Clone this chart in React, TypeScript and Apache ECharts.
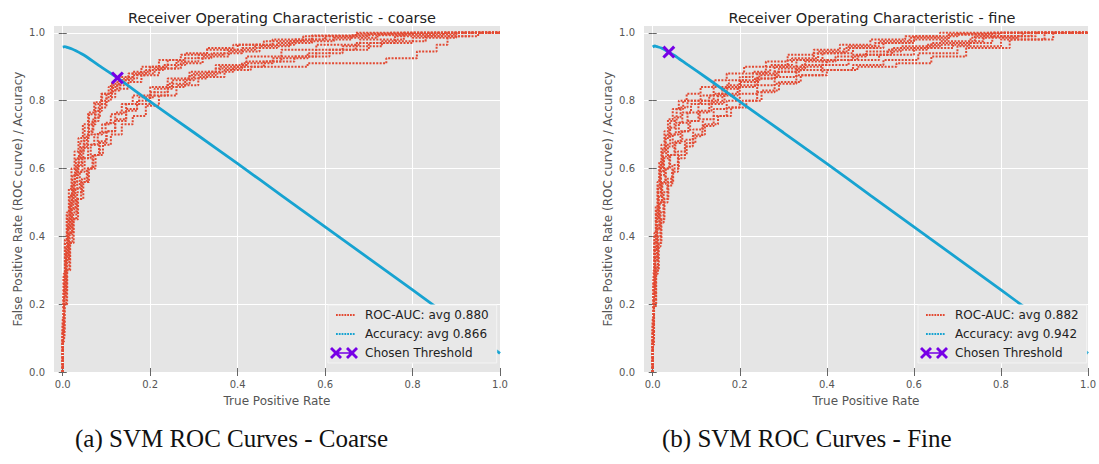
import React, { useEffect, useRef } from "react";
import * as echarts from "echarts";

const xTicks = [0, 0.2, 0.4, 0.6, 0.8, 1.0];
const yTicks = [0, 0.2, 0.4, 0.6, 0.8, 1.0];

const titles = ["Receiver Operating Characteristic - coarse", "Receiver Operating Characteristic - fine"];
const captions = ["(a) SVM ROC Curves - Coarse", "(b) SVM ROC Curves - Fine"];
const rocNames = ["ROC-AUC: avg 0.880", "ROC-AUC: avg 0.882"];
const accNames = ["Accuracy: avg 0.866", "Accuracy: avg 0.942"];
const thresholdName = "Chosen Threshold";

// Chosen threshold points [x, y]
const thresholdCoarse = [[0.125, 0.867]];
const thresholdFine = [[0.037, 0.943]];

// Accuracy curves [x, y]
const accCoarse = [
  [0, 0.958], [0.005, 0.959], [0.01, 0.957], [0.02, 0.953], [0.03, 0.947], [0.05, 0.933],
  [0.08, 0.906], [0.125, 0.867], [0.2, 0.797], [0.3, 0.706], [0.4, 0.614], [0.5, 0.521],
  [0.6, 0.428], [0.7, 0.335], [0.8, 0.242], [0.9, 0.148], [1.0, 0.055],
];
const accFine = [
  [0, 0.958], [0.005, 0.961], [0.01, 0.959], [0.02, 0.955], [0.037, 0.943], [0.05, 0.933],
  [0.08, 0.906], [0.125, 0.866], [0.2, 0.797], [0.3, 0.706], [0.4, 0.614], [0.5, 0.521],
  [0.6, 0.428], [0.7, 0.335], [0.8, 0.242], [0.9, 0.148], [1.0, 0.055],
];

// ROC curves per fold, coarse search
const rocCoarse1 = [[0,0],[0.002,0.15],[0.005,0.28],[0.01,0.38],[0.016,0.46],[0.022,0.52],[0.03,0.58],[0.04,0.63],[0.05,0.68],[0.06,0.72],[0.075,0.76],[0.09,0.79],[0.11,0.82],[0.13,0.85],[0.16,0.87],[0.2,0.885],[0.24,0.9],[0.28,0.92],[0.33,0.94],[0.39,0.955],[0.46,0.965],[0.55,0.975],[0.67,0.99],[0.75,0.997],[1,1]];
const rocCoarse2 = [[0,0],[0.003,0.13],[0.007,0.25],[0.012,0.35],[0.018,0.43],[0.025,0.5],[0.033,0.56],[0.043,0.61],[0.055,0.66],[0.068,0.7],[0.082,0.74],[0.1,0.78],[0.12,0.81],[0.15,0.835],[0.18,0.855],[0.22,0.875],[0.27,0.895],[0.32,0.91],[0.38,0.93],[0.45,0.945],[0.52,0.96],[0.62,0.975],[0.72,0.985],[0.85,0.995],[1,1]];
const rocCoarse3 = [[0,0],[0.002,0.1],[0.006,0.22],[0.011,0.33],[0.017,0.41],[0.024,0.48],[0.033,0.54],[0.045,0.59],[0.058,0.63],[0.072,0.67],[0.09,0.7],[0.11,0.73],[0.135,0.76],[0.16,0.79],[0.2,0.815],[0.24,0.84],[0.29,0.865],[0.35,0.885],[0.42,0.905],[0.5,0.93],[0.58,0.95],[0.68,0.965],[0.78,0.98],[0.9,0.995],[1,1]];
const rocCoarse4 = [[0,0],[0.004,0.1],[0.01,0.2],[0.017,0.3],[0.025,0.38],[0.035,0.45],[0.047,0.51],[0.06,0.56],[0.075,0.6],[0.092,0.64],[0.11,0.67],[0.135,0.7],[0.16,0.73],[0.19,0.755],[0.22,0.785],[0.26,0.815],[0.31,0.845],[0.37,0.87],[0.43,0.89],[0.5,0.9],[0.56,0.9],[0.74,0.91],[0.81,0.925],[0.855,0.945],[0.88,0.965],[0.95,0.99],[1,1]];
const rocCoarse5 = [[0,0],[0.003,0.14],[0.008,0.27],[0.013,0.37],[0.02,0.45],[0.027,0.52],[0.036,0.58],[0.047,0.63],[0.058,0.67],[0.07,0.71],[0.085,0.75],[0.1,0.79],[0.115,0.82],[0.14,0.845],[0.17,0.865],[0.21,0.88],[0.26,0.895],[0.31,0.915],[0.37,0.935],[0.44,0.95],[0.53,0.965],[0.6,0.98],[0.7,0.99],[0.8,0.997],[1,1]];
const rocCoarse6 = [[0,0],[0.003,0.11],[0.008,0.23],[0.014,0.33],[0.021,0.41],[0.029,0.48],[0.039,0.54],[0.05,0.59],[0.064,0.63],[0.08,0.67],[0.098,0.705],[0.12,0.735],[0.145,0.765],[0.175,0.79],[0.21,0.81],[0.25,0.835],[0.3,0.86],[0.36,0.88],[0.42,0.9],[0.5,0.915],[0.58,0.93],[0.67,0.95],[0.76,0.97],[0.87,0.99],[1,1]];
const rocCoarse7 = [[0,0],[0.002,0.12],[0.006,0.24],[0.01,0.34],[0.015,0.42],[0.021,0.49],[0.028,0.55],[0.037,0.6],[0.048,0.65],[0.06,0.69],[0.075,0.73],[0.09,0.77],[0.11,0.8],[0.13,0.83],[0.16,0.86],[0.19,0.875],[0.23,0.89],[0.28,0.905],[0.34,0.925],[0.41,0.94],[0.49,0.955],[0.57,0.97],[0.66,0.98],[0.78,0.993],[1,1]];
const rocCoarse8 = [[0,0],[0.004,0.12],[0.01,0.24],[0.016,0.33],[0.024,0.41],[0.033,0.47],[0.044,0.53],[0.057,0.57],[0.07,0.6],[0.085,0.64],[0.1,0.675],[0.12,0.71],[0.145,0.745],[0.17,0.775],[0.2,0.8],[0.24,0.825],[0.29,0.85],[0.35,0.875],[0.41,0.895],[0.48,0.91],[0.56,0.925],[0.64,0.94],[0.73,0.96],[0.83,0.975],[0.93,0.99],[1,1]];
const rocCoarse9 = [[0,0],[0.002,0.16],[0.005,0.29],[0.009,0.39],[0.014,0.47],[0.02,0.54],[0.027,0.6],[0.036,0.65],[0.046,0.69],[0.058,0.73],[0.072,0.765],[0.088,0.795],[0.105,0.82],[0.125,0.84],[0.15,0.86],[0.18,0.88],[0.22,0.9],[0.27,0.92],[0.33,0.935],[0.4,0.95],[0.48,0.965],[0.57,0.98],[0.67,0.992],[0.78,1],[1,1]];
const rocCoarse10 = [[0,0],[0.003,0.09],[0.008,0.2],[0.015,0.3],[0.022,0.38],[0.031,0.45],[0.042,0.51],[0.055,0.56],[0.068,0.6],[0.083,0.64],[0.1,0.68],[0.12,0.71],[0.145,0.74],[0.17,0.77],[0.2,0.79],[0.24,0.815],[0.28,0.84],[0.33,0.865],[0.39,0.885],[0.46,0.9],[0.53,0.915],[0.61,0.93],[0.7,0.95],[0.8,0.97],[0.9,0.985],[1,1]];

// ROC curves per fold, fine search
const rocFine1 = [[0,0],[0.002,0.15],[0.004,0.28],[0.008,0.4],[0.012,0.48],[0.017,0.55],[0.023,0.61],[0.03,0.66],[0.04,0.7],[0.055,0.74],[0.07,0.775],[0.09,0.8],[0.15,0.8],[0.17,0.82],[0.2,0.845],[0.23,0.87],[0.27,0.885],[0.32,0.905],[0.38,0.925],[0.45,0.945],[0.52,0.96],[0.6,0.975],[0.7,0.99],[0.8,0.997],[1,1]];
const rocFine2 = [[0,0],[0.002,0.12],[0.005,0.25],[0.009,0.36],[0.014,0.45],[0.019,0.52],[0.026,0.58],[0.035,0.63],[0.046,0.665],[0.06,0.7],[0.08,0.735],[0.105,0.765],[0.13,0.79],[0.16,0.815],[0.2,0.835],[0.245,0.855],[0.29,0.875],[0.35,0.895],[0.42,0.915],[0.49,0.93],[0.57,0.945],[0.66,0.96],[0.76,0.975],[0.87,0.99],[1,1]];
const rocFine3 = [[0,0],[0.003,0.1],[0.006,0.22],[0.01,0.33],[0.015,0.42],[0.021,0.5],[0.029,0.56],[0.038,0.6],[0.05,0.64],[0.064,0.675],[0.082,0.71],[0.105,0.74],[0.13,0.765],[0.16,0.79],[0.195,0.815],[0.235,0.84],[0.28,0.865],[0.33,0.885],[0.39,0.9],[0.46,0.92],[0.54,0.935],[0.63,0.95],[0.73,0.965],[0.84,0.985],[1,1]];
const rocFine4 = [[0,0],[0.003,0.09],[0.008,0.2],[0.014,0.3],[0.02,0.38],[0.027,0.45],[0.036,0.51],[0.047,0.56],[0.06,0.6],[0.078,0.64],[0.098,0.675],[0.12,0.7],[0.15,0.73],[0.18,0.755],[0.215,0.78],[0.25,0.8],[0.29,0.83],[0.34,0.855],[0.4,0.875],[0.47,0.89],[0.56,0.9],[0.64,0.91],[0.72,0.93],[0.82,0.955],[0.92,0.98],[1,1]];
const rocFine5 = [[0,0],[0.002,0.13],[0.005,0.26],[0.009,0.37],[0.013,0.46],[0.018,0.53],[0.024,0.59],[0.031,0.635],[0.04,0.67],[0.053,0.7],[0.068,0.735],[0.088,0.765],[0.11,0.79],[0.14,0.815],[0.175,0.84],[0.215,0.86],[0.26,0.88],[0.31,0.9],[0.37,0.92],[0.44,0.94],[0.51,0.955],[0.59,0.97],[0.68,0.985],[0.77,0.995],[1,1]];
const rocFine6 = [[0,0],[0.003,0.11],[0.006,0.23],[0.011,0.34],[0.016,0.43],[0.022,0.5],[0.03,0.555],[0.04,0.6],[0.052,0.64],[0.068,0.68],[0.086,0.71],[0.108,0.74],[0.135,0.77],[0.165,0.795],[0.2,0.82],[0.24,0.845],[0.285,0.865],[0.34,0.885],[0.4,0.905],[0.47,0.92],[0.55,0.935],[0.64,0.955],[0.74,0.97],[0.85,0.99],[1,1]];
const rocFine7 = [[0,0],[0.002,0.14],[0.004,0.27],[0.008,0.38],[0.012,0.47],[0.016,0.54],[0.022,0.6],[0.029,0.65],[0.038,0.69],[0.05,0.72],[0.064,0.75],[0.08,0.78],[0.1,0.8],[0.14,0.8],[0.17,0.82],[0.2,0.84],[0.24,0.86],[0.28,0.88],[0.33,0.9],[0.39,0.92],[0.46,0.94],[0.53,0.955],[0.6,0.97],[0.68,0.98],[0.78,0.995],[1,1]];
const rocFine8 = [[0,0],[0.003,0.1],[0.007,0.21],[0.012,0.31],[0.018,0.4],[0.025,0.47],[0.034,0.53],[0.045,0.57],[0.058,0.61],[0.074,0.65],[0.093,0.685],[0.115,0.715],[0.14,0.745],[0.17,0.775],[0.2,0.8],[0.24,0.82],[0.28,0.845],[0.33,0.87],[0.39,0.89],[0.45,0.905],[0.52,0.92],[0.6,0.935],[0.69,0.955],[0.78,0.97],[0.88,0.99],[1,1]];
const rocFine9 = [[0,0],[0.002,0.16],[0.004,0.3],[0.007,0.41],[0.011,0.49],[0.015,0.56],[0.02,0.62],[0.027,0.67],[0.035,0.71],[0.046,0.745],[0.06,0.775],[0.078,0.8],[0.11,0.82],[0.14,0.84],[0.17,0.86],[0.21,0.88],[0.26,0.9],[0.31,0.915],[0.37,0.935],[0.43,0.95],[0.5,0.965],[0.58,0.98],[0.66,0.99],[0.74,1],[1,1]];
const rocFine10 = [[0,0],[0.003,0.08],[0.007,0.19],[0.012,0.29],[0.018,0.37],[0.025,0.44],[0.034,0.5],[0.045,0.55],[0.058,0.59],[0.074,0.63],[0.092,0.665],[0.114,0.695],[0.14,0.725],[0.17,0.755],[0.2,0.78],[0.24,0.8],[0.28,0.825],[0.33,0.85],[0.39,0.875],[0.46,0.89],[0.53,0.905],[0.61,0.92],[0.7,0.94],[0.8,0.96],[0.9,0.98],[1,1]];

const rocCoarse = [rocCoarse1, rocCoarse2, rocCoarse3, rocCoarse4, rocCoarse5, rocCoarse6, rocCoarse7, rocCoarse8, rocCoarse9, rocCoarse10];
const rocFine = [rocFine1, rocFine2, rocFine3, rocFine4, rocFine5, rocFine6, rocFine7, rocFine8, rocFine9, rocFine10];

const FONT = "DejaVu Sans";
const ROC_COLOR = "#E24A33";
const ACC_COLOR = "#17A3D1";
const THR_COLOR = "#7600E6";
const X_SYMBOL = "path://M2,0 L6,4 L10,0 L12,2 L8,6 L12,10 L10,12 L6,8 L2,12 L0,10 L4,6 L0,2 Z";

// legend icons (30 x 12 box, corner specks fix the bounding box)
const CORNERS = "M0,0 L0.01,0 L0,0.01 Z M30,12 L29.99,12 L30,11.99 Z ";
const DOTS = [6, 8.8, 11.6, 14.4, 17.2, 20, 22.8]
  .map((x) => `M${x},5.1 L${x + 1.8},5.1 L${x + 1.8},6.9 L${x},6.9 Z`).join(" ");
const DOTTED_ICON = "path://" + CORNERS + DOTS;
const xShape = (o: number) =>
  `M${o + 2},0 L${o + 6},4 L${o + 10},0 L${o + 12},2 L${o + 8},6 L${o + 12},10 L${o + 10},12 L${o + 6},8 L${o + 2},12 L${o},10 L${o + 4},6 L${o},2 Z`;
const THR_ICON = "path://" + CORNERS + xShape(0) + " " + xShape(16) + " M6,5.3 L22,5.3 L22,6.7 L6,6.7 Z";

const fmt = (v: number) => v.toFixed(1);

function panelAxes(gridIndex: number) {
  const common = { gridIndex, type: "value" as const };
  const tickStyle = { show: true, length: 4, inside: false, lineStyle: { color: "#666", width: 1 } };
  const xMain = {
    ...common, min: -0.02, max: 1.0, position: "bottom",
    axisLine: { show: false },
    axisTick: { ...tickStyle, customValues: xTicks },
    axisLabel: { customValues: xTicks, formatter: fmt, color: "#555", fontSize: 10, fontFamily: FONT, margin: 7 },
    splitLine: { show: true, lineStyle: { color: "#ffffff", width: 1 } },
    name: "True Positive Rate", nameLocation: "middle", nameGap: 23,
    nameTextStyle: { color: "#555", fontSize: 12, fontFamily: FONT },
  };
  const xTop = {
    ...common, min: -0.02, max: 1.0, position: "top",
    axisLine: { show: false },
    axisTick: { ...tickStyle, customValues: xTicks },
    axisLabel: { show: false, customValues: xTicks },
    splitLine: { show: false },
  };
  const yMain = {
    ...common, min: 0, max: 1.02, position: "left",
    axisLine: { show: false },
    axisTick: { ...tickStyle, customValues: yTicks },
    axisLabel: { customValues: yTicks, formatter: fmt, color: "#555", fontSize: 10, fontFamily: FONT, margin: 9 },
    splitLine: { show: true, lineStyle: { color: "#ffffff", width: 1 } },
    name: "False Positive Rate (ROC curve) / Accuracy", nameLocation: "middle", nameGap: 30,
    nameTextStyle: { color: "#555", fontSize: 12, fontFamily: FONT },
  };
  const yRight = {
    ...common, min: 0, max: 1.02, position: "right",
    axisLine: { show: false },
    axisTick: { ...tickStyle, customValues: yTicks },
    axisLabel: { show: false, customValues: yTicks },
    splitLine: { show: false },
  };
  return { x: [xMain, xTop], y: [yMain, yRight] };
}

function panelSeries(axisIndex: number, rocs: number[][][], acc: number[][], thr: number[][], rocName: string, accName: string) {
  const s: any[] = [];
  rocs.forEach((d) => {
    s.push({
      type: "line", name: rocName, xAxisIndex: axisIndex, yAxisIndex: axisIndex,
      data: d, step: "start", showSymbol: false, symbol: "none", z: 2,
      lineStyle: { color: ROC_COLOR, width: 2, type: [2, 1.4] },
      itemStyle: { color: ROC_COLOR },
    });
  });
  s.push({
    type: "line", name: accName, xAxisIndex: axisIndex, yAxisIndex: axisIndex,
    data: acc, showSymbol: false, symbol: "none", smooth: 0.2, z: 3,
    lineStyle: { color: ACC_COLOR, width: 2.8 },
    itemStyle: { color: ACC_COLOR },
  });
  s.push({
    type: "line", name: thresholdName, xAxisIndex: axisIndex, yAxisIndex: axisIndex,
    data: thr, symbol: X_SYMBOL, symbolSize: 13, showSymbol: true, z: 4,
    lineStyle: { color: THR_COLOR, width: 1.5 },
    itemStyle: { color: THR_COLOR },
  });
  return s;
}

function legendFor(left: number, rocName: string, accName: string) {
  return {
    left, top: 305, orient: "vertical",
    itemWidth: 30, itemHeight: 12, itemGap: 7,
    padding: [4, 8, 4, 2],
    backgroundColor: "#E8E8E8", borderColor: "#F4F4F4", borderWidth: 1,
    textStyle: { color: "#222", fontSize: 12, fontFamily: FONT },
    selectedMode: false,
    data: [
      { name: rocName, icon: DOTTED_ICON },
      { name: accName, icon: DOTTED_ICON },
      { name: thresholdName, icon: THR_ICON },
    ],
  };
}

export default function App() {
  const ref = useRef<HTMLDivElement>(null);
  useEffect(() => {
    if (!ref.current) return;
    const chart = echarts.init(ref.current, undefined, { renderer: "svg" });
    const a0 = panelAxes(0);
    const a1 = panelAxes(1);
    const titleStyle = { color: "#222", fontSize: 14.5, fontWeight: "normal", fontFamily: FONT };
    const option: any = {
      animation: false,
      backgroundColor: "#ffffff",
      title: [
        { text: titles[0], left: 277, top: 5, textAlign: "center", textStyle: titleStyle },
        { text: titles[1], left: 867, top: 5, textAlign: "center", textStyle: titleStyle },
      ],
      grid: [
        { left: 54, top: 26, width: 446, height: 346, show: true, backgroundColor: "#E5E5E5", borderWidth: 0 },
        { left: 644, top: 26, width: 446, height: 346, show: true, backgroundColor: "#E5E5E5", borderWidth: 0 },
      ],
      xAxis: [a0.x[0], a0.x[1], a1.x[0], a1.x[1]],
      yAxis: [a0.y[0], a0.y[1], a1.y[0], a1.y[1]],
      legend: [legendFor(328, rocNames[0], accNames[0]), legendFor(918, rocNames[1], accNames[1])],
      series: [
        ...panelSeries(0, rocCoarse, accCoarse, thresholdCoarse, rocNames[0], accNames[0]),
        ...panelSeries(2, rocFine, accFine, thresholdFine, rocNames[1], accNames[1]),
      ],
      graphic: [
        { type: "text", left: 75, top: 426, style: { text: captions[0], font: "25px 'Liberation Serif'", fill: "#111" } },
        { type: "text", left: 662, top: 426, style: { text: captions[1], font: "25px 'Liberation Serif'", fill: "#111" } },
      ],
    };
    chart.setOption(option);
    return () => chart.dispose();
  }, []);
  return <div ref={ref} style={{ position: "absolute", left: 0, top: 0, width: 1099, height: 464 }} />;
}
